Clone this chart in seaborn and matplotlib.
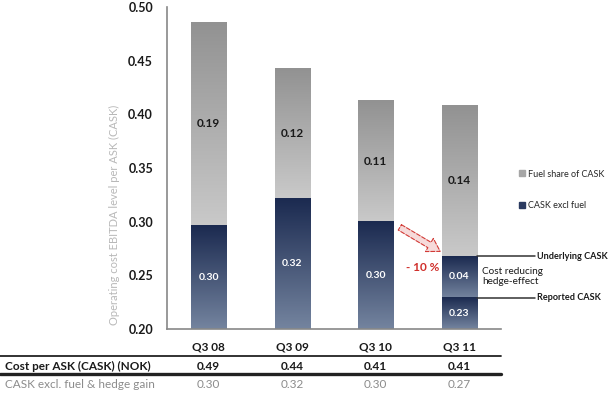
import numpy as np
import seaborn as sns
from matplotlib import pyplot
from matplotlib.colors import LinearSegmentedColormap
from matplotlib.lines import Line2D
from matplotlib.ticker import FixedLocator

quarters = ['Q3 08', 'Q3 09', 'Q3 10', 'Q3 11']
total_cask = [0.486, 0.443, 0.413, 0.408]
underlying_cask = [0.296, 0.322, 0.300, 0.268]
reported_cask = [0.296, 0.322, 0.300, 0.229]
fuel_labels = ['0.19', '0.12', '0.11', '0.14']
underlying_labels = ['0.30', '0.32', '0.30', '0.04']
reported_labels = ['', '', '', '0.23']
cask_nok = ['0.49', '0.44', '0.41', '0.41']
cask_excl_hedge = ['0.30', '0.32', '0.30', '0.27']

sns.set_style("white")
pyplot.rcParams['font.family'] = ['Lato', 'DejaVu Sans']

fig = pyplot.figure(figsize=(6.1, 3.96), dpi=100)
ax = fig.add_axes([167/610, 1-329/396, 334/610, 322/396])

grey_cmap = LinearSegmentedColormap.from_list('g', ['#c9c9c9', '#929292'])
navy_cmap = LinearSegmentedColormap.from_list('n', ['#74849f', '#1b2a50'])
ybot = 0.20
bw = 0.42

def draw(values, color):
    n0 = len(ax.patches)
    sns.barplot(x=quarters, y=values, color=color, saturation=1, width=bw, ax=ax)
    return ax.patches[n0:]

p_fuel = draw(total_cask, '#aaaaaa')
p_under = draw(underlying_cask, '#34446a')
p_rep = draw(reported_cask, '#34446a')

grad = np.linspace(0, 1, 200).reshape(-1, 1)

def shade(patch, lo, hi, cmap):
    if hi - lo <= 1e-9:
        return
    x0 = patch.get_x()
    ax.imshow(grad, extent=(x0, x0 + patch.get_width(), lo, hi), origin='lower',
              aspect='auto', cmap=cmap, zorder=patch.get_zorder() + 0.1)

for i in range(len(quarters)):
    shade(p_fuel[i], underlying_cask[i], total_cask[i], grey_cmap)
    shade(p_under[i], reported_cask[i], underlying_cask[i], navy_cmap)
    shade(p_rep[i], ybot, reported_cask[i], navy_cmap)
    ax.text(i, (underlying_cask[i] + total_cask[i]) / 2, fuel_labels[i], ha='center',
            va='center', fontsize=8.5, fontweight='bold', color='#1a1a1a', zorder=5)
    lo = reported_cask[i] if reported_cask[i] < underlying_cask[i] else ybot
    ax.text(i, (lo + underlying_cask[i]) / 2, underlying_labels[i], ha='center',
            va='center', fontsize=7.5, fontweight='bold', color='white', zorder=5)
    if reported_labels[i]:
        ax.text(i, (ybot + reported_cask[i]) / 2, reported_labels[i], ha='center',
                va='center', fontsize=7.5, fontweight='bold', color='white', zorder=5)

ax.set_xlim(-0.5, 3.5)
ax.set_ylim(ybot, 0.50)
ax.set_yticks(np.arange(0.20, 0.501, 0.05))
ax.set_yticklabels(['%.2f' % v for v in np.arange(0.20, 0.501, 0.05)])
ax.xaxis.set_minor_locator(FixedLocator(np.arange(-0.5, 3.6, 1)))
ax.tick_params(axis='x', which='major', length=0, pad=9, labelsize=8.5, labelcolor='#1a1a1a')
ax.tick_params(axis='x', which='minor', length=4, width=1, color='#888888', direction='out')
ax.tick_params(axis='y', length=4, width=1, color='#888888', direction='out',
               labelsize=9, labelcolor='#1a1a1a', pad=6)
for lab in ax.get_xticklabels() + ax.get_yticklabels():
    lab.set_fontweight('bold')
for s in ['top', 'right']:
    ax.spines[s].set_visible(False)
for s in ['left', 'bottom']:
    ax.spines[s].set_color('#888888')
    ax.spines[s].set_linewidth(1.2)

ax.set_ylabel('Operating cost EBITDA level per ASK (CASK)', fontsize=8, color='#b8b8b8')
ax.yaxis.set_label_coords(-0.14, 0.354)

# legend
handles = [Line2D([], [], ls='none', marker='s', markersize=4.5, color='#a6a6a6'),
           Line2D([], [], ls='none', marker='s', markersize=4.5, color='#2a3a60')]
fig.legend(handles, ['Fuel share of CASK', 'CASK excl fuel'], loc='upper left',
           bbox_to_anchor=(515/610, 1-165/396), frameon=False, fontsize=6.5,
           handlelength=0.6, handletextpad=0.3, labelspacing=2.5, borderpad=0)

# annotations on Q3 11
xr = 3 + bw / 2
ax.plot([xr, 3.91], [underlying_cask[3]] * 2, color='#333333', lw=1.1, clip_on=False)
ax.plot([xr, 3.91], [reported_cask[3]] * 2, color='#333333', lw=1.1, clip_on=False)
ax.text(3.93, underlying_cask[3], 'Underlying CASK', fontsize=6.6, fontweight='bold',
        va='center', ha='left', color='#1a1a1a')
ax.text(3.93, reported_cask[3], 'Reported CASK', fontsize=6.6, fontweight='bold',
        va='center', ha='left', color='#1a1a1a')
ax.text(3.27, (reported_cask[3] + underlying_cask[3]) / 2, 'Cost reducing\nhedge-effect',
        fontsize=7.2, va='center', ha='left', color='#1a1a1a', linespacing=1.15)
ax.annotate('', xy=(2.8, 0.271), xytext=(2.26, 0.296),
            arrowprops=dict(arrowstyle='simple,head_width=1.1,head_length=0.9,tail_width=0.45',
                            fc='#f6dada', ec='#d23a36', ls='--', lw=0.8))
ax.text(2.56, 0.257, '- 10 %', fontsize=8.5, fontweight='bold', color='#d0302c',
        ha='center', va='center')

# table below the chart
fig.add_artist(Line2D([0, 501/610], [1-356/396] * 2, color='#222222', lw=1.3))
fig.add_artist(Line2D([0, 501/610], [1-374/396] * 2, color='#222222', lw=2.4))
fig.text(5/610, 1-366/396, 'Cost per ASK (CASK) (NOK)', fontsize=8.5, fontweight='bold',
         va='center', color='#1a1a1a')
fig.text(5/610, 1-385/396, 'CASK excl. fuel & hedge gain', fontsize=8.5,
         va='center', color='#8c8c8c')
trans = ax.get_xaxis_transform()
for i in range(len(quarters)):
    ax.text(i, -37/322, cask_nok[i], transform=trans, ha='center', va='center',
            fontsize=8.5, fontweight='bold', color='#1a1a1a', clip_on=False)
    ax.text(i, -56/322, cask_excl_hedge[i], transform=trans, ha='center', va='center',
            fontsize=8.5, color='#8c8c8c', clip_on=False)

fig.savefig('out.png', dpi=100)
